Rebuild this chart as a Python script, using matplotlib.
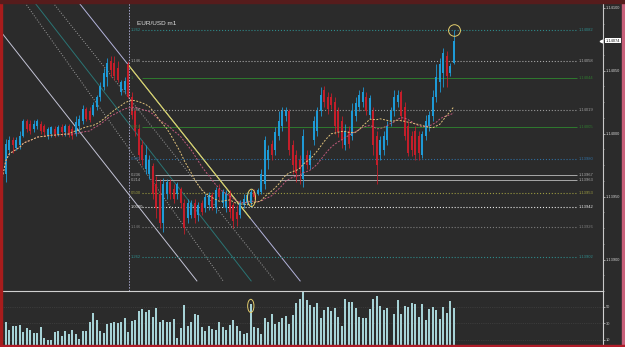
import matplotlib
matplotlib.use("Agg")
import matplotlib.pyplot as plt
import matplotlib.transforms as mtransforms
from matplotlib.patches import Ellipse, Rectangle
import numpy as np
import pandas as pd

plt.rcParams["font.family"] = ["Liberation Sans", "DejaVu Sans"]

# EUR/USD m1 - 130 candles
opens = [1.13995, 1.13968, 1.13987, 1.13995, 1.13989, 1.13991, 1.13998, 1.14010, 1.14008, 1.14004,
         1.14006, 1.14008, 1.14006, 1.13998, 1.14000, 1.14004, 1.14000, 1.14005, 1.14001, 1.14006,
         1.14004, 1.14000, 1.14006, 1.14010, 1.14020, 1.14018, 1.14015, 1.14021, 1.14029, 1.14037,
         1.14045, 1.14058, 1.14056, 1.14052, 1.14033, 1.14035, 1.14055, 1.14029, 1.14018, 1.14004,
         1.13991, 1.13972, 1.13968, 1.13974, 1.13960, 1.13952, 1.13929, 1.13952, 1.13962, 1.13956,
         1.13952, 1.13956, 1.13945, 1.13933, 1.13935, 1.13945, 1.13935, 1.13945, 1.13941, 1.13943,
         1.13951, 1.13941, 1.13956, 1.13945, 1.13941, 1.13952, 1.13943, 1.13938, 1.13935, 1.13943,
         1.13945, 1.13945, 1.13954, 1.13952, 1.13954, 1.13960, 1.13979, 1.13992, 1.13987, 1.13998,
         1.14006, 1.14014, 1.14018, 1.13991, 1.13983, 1.13979, 1.13964, 1.13983, 1.13975, 1.13995,
         1.14002, 1.14018, 1.14035, 1.14029, 1.14029, 1.14025, 1.14018, 1.14010, 1.13991, 1.14002,
         1.13998, 1.14014, 1.14021, 1.14025, 1.14029, 1.14015, 1.14018, 1.13998, 1.13983, 1.13987,
         1.13995, 1.14010, 1.14018, 1.14025, 1.14033, 1.14021, 1.14006, 1.13998, 1.14002, 1.13998,
         1.13983, 1.13998, 1.14006, 1.14014, 1.14029, 1.14041, 1.14048, 1.14062, 1.14048, 1.14056]
closes = [1.13965, 1.13992, 1.13995, 1.13991, 1.13995, 1.13998, 1.14010, 1.14004, 1.14002, 1.14008,
          1.14010, 1.14002, 1.14001, 1.14004, 1.14005, 1.14000, 1.14005, 1.14001, 1.14006, 1.14000,
          1.13998, 1.14009, 1.14012, 1.14020, 1.14012, 1.14011, 1.14023, 1.14029, 1.14038, 1.14048,
          1.14056, 1.14051, 1.14046, 1.14043, 1.14041, 1.14042, 1.14029, 1.14015, 1.14002, 1.13983,
          1.13979, 1.13983, 1.13979, 1.13952, 1.13941, 1.13929, 1.13960, 1.13962, 1.13952, 1.13948,
          1.13960, 1.13945, 1.13925, 1.13945, 1.13945, 1.13933, 1.13943, 1.13938, 1.13950, 1.13951,
          1.13942, 1.13955, 1.13950, 1.13954, 1.13952, 1.13938, 1.13931, 1.13932, 1.13945, 1.13948,
          1.13951, 1.13954, 1.13950, 1.13955, 1.13968, 1.13995, 1.13987, 1.13983, 1.14001, 1.14010,
          1.14018, 1.14019, 1.13987, 1.13975, 1.13969, 1.13972, 1.13998, 1.13975, 1.13983, 1.14010,
          1.14018, 1.14031, 1.14025, 1.14020, 1.14023, 1.14006, 1.14001, 1.13995, 1.14002, 1.13992,
          1.14018, 1.14024, 1.14031, 1.14033, 1.14018, 1.14028, 1.13991, 1.13975, 1.13995, 1.13998,
          1.14006, 1.14018, 1.14029, 1.14031, 1.14014, 1.13998, 1.13985, 1.13987, 1.13983, 1.13985,
          1.14000, 1.14010, 1.14015, 1.14029, 1.14045, 1.14055, 1.14064, 1.14046, 1.14054, 1.14074]
highs = [1.13998, 1.13996, 1.13998, 1.13997, 1.13997, 1.14002, 1.14012, 1.14012, 1.14011, 1.14011,
         1.14012, 1.14010, 1.14008, 1.14005, 1.14006, 1.14006, 1.14007, 1.14008, 1.14008, 1.14008,
         1.14006, 1.14014, 1.14015, 1.14023, 1.14021, 1.14021, 1.14025, 1.14031, 1.14041, 1.14052,
         1.14060, 1.14062, 1.14062, 1.14058, 1.14043, 1.14045, 1.14058, 1.14033, 1.14020, 1.14008,
         1.13995, 1.13991, 1.13983, 1.13977, 1.13966, 1.13964, 1.13965, 1.13964, 1.13964, 1.13960,
         1.13962, 1.13958, 1.13948, 1.13948, 1.13947, 1.13948, 1.13946, 1.13947, 1.13952, 1.13954,
         1.13954, 1.13958, 1.13960, 1.13956, 1.13955, 1.13955, 1.13946, 1.13943, 1.13947, 1.13952,
         1.13954, 1.13956, 1.13956, 1.13957, 1.13972, 1.13998, 1.13991, 1.13995, 1.14005, 1.14018,
         1.14021, 1.14021, 1.14020, 1.13995, 1.13987, 1.13983, 1.14004, 1.13987, 1.13987, 1.14014,
         1.14021, 1.14037, 1.14038, 1.14033, 1.14032, 1.14029, 1.14021, 1.14014, 1.14008, 1.14006,
         1.14024, 1.14029, 1.14035, 1.14037, 1.14033, 1.14031, 1.14021, 1.14002, 1.13998, 1.14002,
         1.14010, 1.14021, 1.14035, 1.14035, 1.14035, 1.14025, 1.14010, 1.14002, 1.14006, 1.14002,
         1.14002, 1.14015, 1.14018, 1.14035, 1.14055, 1.14060, 1.14068, 1.14066, 1.14056, 1.14082]
lows = [1.13962, 1.13962, 1.13983, 1.13985, 1.13987, 1.13988, 1.13997, 1.14001, 1.14000, 1.14001,
        1.14004, 1.14000, 1.13998, 1.13996, 1.13997, 1.13997, 1.13998, 1.13998, 1.13998, 1.13997,
        1.13996, 1.13998, 1.14002, 1.14008, 1.14010, 1.14009, 1.14014, 1.14019, 1.14026, 1.14035,
        1.14038, 1.14045, 1.14043, 1.14041, 1.14031, 1.14032, 1.14028, 1.14012, 1.13998, 1.13979,
        1.13975, 1.13968, 1.13964, 1.13948, 1.13933, 1.13925, 1.13922, 1.13948, 1.13948, 1.13945,
        1.13948, 1.13941, 1.13920, 1.13929, 1.13933, 1.13929, 1.13931, 1.13935, 1.13938, 1.13939,
        1.13939, 1.13937, 1.13947, 1.13942, 1.13938, 1.13933, 1.13925, 1.13927, 1.13933, 1.13941,
        1.13943, 1.13942, 1.13948, 1.13951, 1.13952, 1.13956, 1.13972, 1.13979, 1.13983, 1.13995,
        1.14002, 1.14010, 1.13983, 1.13968, 1.13962, 1.13960, 1.13958, 1.13972, 1.13972, 1.13991,
        1.13998, 1.14014, 1.14021, 1.14016, 1.14020, 1.14000, 1.13997, 1.13989, 1.13987, 1.13989,
        1.13995, 1.14010, 1.14018, 1.14021, 1.14015, 1.14012, 1.13983, 1.13960, 1.13979, 1.13983,
        1.13991, 1.14006, 1.14014, 1.14021, 1.14010, 1.13995, 1.13982, 1.13982, 1.13979, 1.13979,
        1.13981, 1.13995, 1.14002, 1.14010, 1.14025, 1.14033, 1.14037, 1.14037, 1.14046, 1.14055]
volumes = [30, 32, 22, 27, 27, 28, 19, 24, 22, 18, 18, 26, 12, 10, 10, 19, 20, 14, 21, 17,
           22, 17, 11, 21, 21, 31, 43, 34, 21, 18, 29, 30, 31, 30, 32, 36, 19, 33, 34, 45,
           47, 44, 46, 37, 48, 32, 34, 32, 31, 35, 12, 24, 52, 27, 31, 41, 40, 25, 20, 27,
           23, 22, 32, 25, 22, 28, 34, 27, 21, 17, 18, 53, 26, 24, 17, 36, 31, 41, 29, 31,
           36, 39, 29, 40, 54, 60, 68, 58, 52, 50, 55, 36, 46, 50, 45, 48, 37, 27, 60, 56,
           56, 48, 37, 36, 36, 47, 60, 63, 51, 46, 48, 4, 41, 58, 41, 51, 50, 55, 53, 37,
           53, 34, 47, 50, 46, 35, 50, 43, 57, 49]
current_price = 1.14074

# fibo levels
fib_prices = [1.14082, 1.14058, 1.14044, 1.14019, 1.14005, 1.13980,
              1.13967, 1.13963, 1.13953, 1.13942, 1.13926, 1.13902]
fib_left = ["1.262", "1.146", "1", "0.786", "0.618", "0.382",
            "0.236", "0.214", "0.500", "1.0000", "1.146", "1.262"]
fib_colors = ["#2e8a8a", "#a8a8a8", "#2f7a2f", "#9a9a9a", "#2f7a2f", "#2f6ea0",
              "#a8a8a8", "#a8a8a8", "#9a9a40", "#e6e6e6", "#7c7c7c", "#2e8a8a"]
fib_styles = [":", ":", "-", ":", "-", ":", "-", "-", ":", ":", ":", ":"]
fib_start = [40, 40, 40, 40, 40, 40, 43.5, 43.5, 40, 40, 40, 40]
fib_end = 164.2
fib_anchor = 36.3

# pitchfork / channel lines (bar index, price)
fork_i0 = [-6.9, 6.5, 9.3, 14.5, 21.9]
fork_p0 = [1.14104, 1.14104, 1.14104, 1.14104, 1.14104]
fork_i1 = [55.6, 63.1, 71.1, 77.9, 85.1]
fork_p1 = [1.13883, 1.13883, 1.13883, 1.13883, 1.13883]
fork_colors = ["#c4c4d6", "#9c9c9c", "#2a7474", "#9c9c9c", "#b4b4dc"]
fork_styles = ["-", ":", "-", ":", "-"]
trend_i = [35.9, 70.8]
trend_p = [1.14055, 1.13933]

bg = "#2b2b2b"
bull = "#1e9ad6"
bear = "#c41e2a"
circle_col = "#e2cc6c"

fig = plt.figure(figsize=(6.25, 3.47), dpi=100, facecolor=bg)
ax = fig.add_axes([2 / 625, 56 / 347, 601 / 625, 288 / 347], facecolor=bg)
axv = fig.add_axes([2 / 625, 2 / 347, 601 / 625, 54 / 347], facecolor=bg)

x = np.arange(len(closes))
o = np.array(opens)
c = np.array(closes)
cols = np.where(c >= o, bull, bear)

# channel lines behind the candles
for i0, p0, i1, p1, col, ls in zip(fork_i0, fork_p0, fork_i1, fork_p1, fork_colors, fork_styles):
    ax.plot([i0, i1], [p0, p1], color=col, lw=0.7, ls=ls, zorder=1)
ax.plot(trend_i, trend_p, color="#d8d45c", lw=0.8, zorder=1.5)
ax.axvline(fib_anchor, color="#a8a8d0", lw=0.7, ls=(0, (1.5, 1.5)), zorder=1)

# fibo levels
for p, lab, col, ls, st in zip(fib_prices, fib_left, fib_colors, fib_styles, fib_start):
    ax.hlines(p, st, fib_end, colors=col, linestyles=ls, lw=0.7 if ls == "-" else 0.8, zorder=1)
    ax.text(fib_anchor + 0.5, p, lab, color=col, fontsize=3, va="center", ha="left", zorder=3)
    ax.text(fib_end + 0.4, p, f"{p:.5f}", color=col, fontsize=3, va="center", ha="left", zorder=3)

# candles
ax.vlines(x, lows, highs, colors=cols, lw=0.6, zorder=2)
ax.bar(x, np.maximum(np.abs(c - o), 0.000008), bottom=np.minimum(o, c), width=0.58,
       color=cols, linewidth=0, zorder=2)

# moving averages
s = pd.Series(closes)
ma_fast = s.rolling(20, min_periods=1).mean()
ma_slow = s.rolling(26, min_periods=1).mean()
ax.plot(x, ma_slow, color="#c05a7c", lw=0.7, ls=(0, (2, 1.5)), zorder=2.5)
ax.plot(x, ma_fast, color="#e0c27a", lw=0.7, ls=(0, (2, 1.5)), zorder=2.6)

# highlight circles
ax.add_patch(Ellipse((129.2, 1.14082), 3.4, 0.000092, fill=False, ec=circle_col, lw=0.7, zorder=4))
ax.add_patch(Ellipse((71.2, 1.13949), 2.3, 0.000138, fill=False, ec=circle_col, lw=0.7, zorder=4))

ax.text(0.2246, 0.93, "EUR/USD m1", transform=ax.transAxes, color="#e0e0e0", fontsize=4.6,
        va="center", ha="left")

ax.set_xlim(-0.086, 171.63)
ax.set_ylim(1.138823, 1.1410385)
ax.set_xticks([])
ax.yaxis.tick_right()
yt = np.arange(1.13900, 1.141001, 0.0005)
ax.set_yticks(yt)
ax.set_yticklabels([f"{v:.5f}" for v in yt])
ax.set_yticks(np.arange(1.13875, 1.14101, 0.000125), minor=True)
ax.tick_params(axis="y", which="major", colors="#d0d0d0", labelsize=2.9, length=1.5, width=0.5, pad=0.6)
ax.tick_params(axis="y", which="minor", colors="#d0d0d0", length=1.0, width=0.4)
for side in ["left", "top", "bottom"]:
    ax.spines[side].set_visible(False)
ax.spines["right"].set_color("#c8c8c8")
ax.spines["right"].set_linewidth(0.8)

# current price tag
blend = mtransforms.blended_transform_factory(ax.transAxes, ax.transData)
ax.text(1.004, current_price, f"{current_price:.5f}", transform=blend, fontsize=2.9, color="#202020",
        va="center", ha="left", bbox=dict(boxstyle="square,pad=0.15", fc="white", ec="none"), clip_on=False)
ax.plot([0.996], [current_price], marker="<", ms=2, color="white", transform=blend, clip_on=False)

# volume panel
axv.bar(x, volumes, width=0.6, color="#a6d2d6", linewidth=0, zorder=2)
axv.add_patch(Ellipse((71, 51), 1.8, 16, fill=False, ec=circle_col, lw=0.7, zorder=3))
axv.set_xlim(-0.086, 171.63)
axv.set_ylim(3.6, 69.1)
axv.set_xticks([])
axv.yaxis.tick_right()
axv.set_yticks([10, 30, 50])
axv.tick_params(axis="y", colors="#c8c8c8", labelsize=2.9, length=1.5, width=0.5, pad=0.6)
axv.grid(axis="y", color="#4a4a4a", lw=0.5, ls=":", zorder=0)
for side in ["left", "bottom"]:
    axv.spines[side].set_visible(False)
for side in ["top", "right"]:
    axv.spines[side].set_color("#d0d0d0")
    axv.spines[side].set_linewidth(0.8)

# window frame
fig.add_artist(Rectangle((0, 0), 2 / 625, 1, transform=fig.transFigure, color="#a81c1c", zorder=10))
fig.add_artist(Rectangle((622 / 625, 0), 3 / 625, 1, transform=fig.transFigure, color="#c8607a", zorder=10))
fig.add_artist(Rectangle((0, 0), 1, 2 / 347, transform=fig.transFigure, color="#b01c28", zorder=10))
fig.add_artist(Rectangle((0, 344 / 347), 1, 3 / 347, transform=fig.transFigure, color="#561c1c", zorder=10))

fig.savefig("out.png", dpi=100, facecolor=bg)
